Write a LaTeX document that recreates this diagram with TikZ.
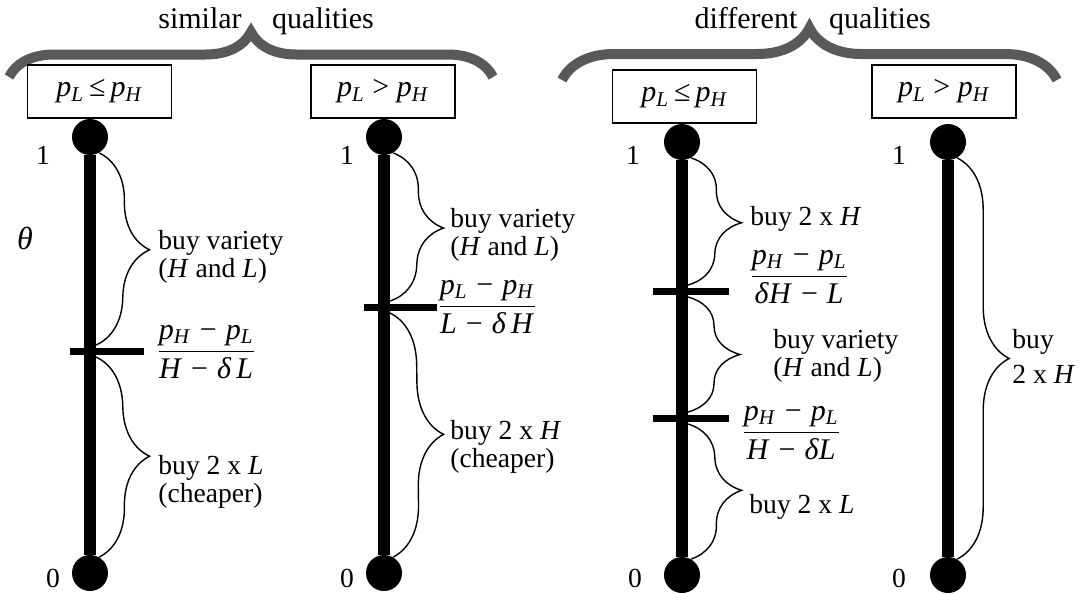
\documentclass[tikz,border=0pt]{standalone}
\usepackage{amsmath}
\usepackage{fontspec}
\setmainfont{Liberation Serif}
\usetikzlibrary{decorations.pathreplacing}

\newcommand\vi[1]{\textit{#1}}
\newcommand\pr[1]{\textit{p}\textsubscript{\textit{#1}}}
\newcommand\mn{\hspace{0.3em}−\hspace{0.3em}}

\begin{document}
\begin{tikzpicture}[x=0.5pt, y=-0.5pt, font=\fontsize{13.8}{14}\selectfont]
    \tikzset{
        pricebox/.style={draw, line width=0.7pt,
        minimum width=72pt, minimum height=26.5pt, inner sep=0pt,
        font=\fontsize{15}{15}\selectfont},
        dot/.style={circle, fill=black, minimum size=18pt, inner sep=0pt},
        axis/.style={line width=6pt},
        cut/.style={line width=3.5pt},
        brc/.style={decorate, decoration={brace, amplitude=26pt}, line width=0.7pt},
        bigbrc/.style={decorate, decoration={brace, amplitude=#1},
        line width=5pt, draw=black!65},
        lbl/.style={anchor=base west, inner sep=0pt, align=left},
        fr/.style={anchor=west, inner sep=0pt, font=\fontsize{15}{16}\selectfont},
        head/.style={anchor=base, inner sep=0pt, font=\fontsize{15}{15}\selectfont},
        num/.style={inner sep=0pt}
    }
    \useasboundingbox (0,0) rectangle (1081,594);

    % group headings
    \node (sim) [head] at (200,28) {similar};
    \node (qual1) [head] at (323,28) {qualities};
    \node (diff) [head] at (746,28) {different};
    \node (qual2) [head] at (880,28) {qualities};
    \coordinate (gl1) at (9,77);
    \coordinate (gr1) at (493,77);
    \coordinate (gl2) at (562,80);
    \coordinate (gr2) at (1057,80);
    \draw [bigbrc=22.5pt] (gl1) -- (gr1);
    \draw [bigbrc=26pt] (gl2) -- (gr2);

    % price cases
    \node (case1) [pricebox] at (99.5,91.5) {\pr{L}\,≤\,\pr{H}};
    \node (case2) [pricebox] at (383,91.5) {\pr{L} > \pr{H}};
    \node (case3) [pricebox] at (684.5,96.5) {\pr{L}\,≤\,\pr{H}};
    \node (case4) [pricebox] at (944,91.5) {\pr{L} > \pr{H}};

    \node (theta) [num, font=\fontsize{16}{16}\selectfont] at (25,238) {\vi{θ}};

    % first axis
    \node (top1) [dot] at (90,137) {};
    \node (bot1) [dot] at (90,573) {};
    \node (one1) [num] at (43,155) {1};
    \node (zero1) [num] at (53,578) {0};
    \coordinate (t1) at (90,351);
    \draw [axis] (top1) -- (bot1);
    \draw [cut] ([xshift=-10pt]t1) -- ([xshift=27pt]t1);
    \draw [brc] (top1.-60) -- ([xshift=3pt,yshift=3pt]t1);
    \draw [brc] ([xshift=3pt,yshift=-3pt]t1) -- (bot1.60);
    \node (var1) [lbl] at (158,277) {buy variety\\(\vi{H} and \vi{L})};
    \node (fr1) [fr] at (156,352) {$\dfrac{\text{\pr{H}\mn\pr{L}}}{\text{\vi{H}\mn\vi{δ}\,\vi{L}}}$};
    \node (low1) [lbl] at (158,502) {buy 2 x \vi{L}\\(cheaper)};

    % second axis
    \node (top2) [dot] at (384,137) {};
    \node (bot2) [dot] at (384,573) {};
    \node (one2) [num] at (347,155) {1};
    \node (zero2) [num] at (347,578) {0};
    \coordinate (t2) at (384,307);
    \draw [axis] (top2) -- (bot2);
    \draw [cut] ([xshift=-10pt]t2) -- ([xshift=26.5pt]t2);
    \draw [brc] (top2.-60) -- ([xshift=3pt,yshift=3pt]t2);
    \draw [brc] ([xshift=3pt,yshift=-3pt]t2) -- (bot2.60);
    \node (var2) [lbl] at (450,255) {buy variety\\(\vi{H} and \vi{L})};
    \node (fr2) [fr] at (437,307) {$\dfrac{\text{\pr{L}\mn\pr{H}}}{\text{\vi{L}\mn\vi{δ}\,\vi{H}}}$};
    \node (low2) [lbl] at (450,467) {buy 2 x \vi{H}\\(cheaper)};

    % third axis
    \node (top3) [dot] at (682,142) {};
    \node (bot3) [dot] at (682,575) {};
    \node (one3) [num] at (633,155) {1};
    \node (zero3) [num] at (635,578) {0};
    \coordinate (t3a) at (682,291);
    \coordinate (t3b) at (682,418);
    \draw [axis] (top3) -- (bot3);
    \draw [cut] ([xshift=-14.5pt]t3a) -- ([xshift=23.5pt]t3a);
    \draw [cut] ([xshift=-14.5pt]t3b) -- ([xshift=23.5pt]t3b);
    \draw [brc] (top3.-60) -- ([xshift=3pt,yshift=3pt]t3a);
    \draw [brc] ([xshift=3pt,yshift=-3pt]t3a) -- ([xshift=3pt,yshift=3pt]t3b);
    \draw [brc] ([xshift=3pt,yshift=-3pt]t3b) -- (bot3.60);
    \node (high3) [lbl] at (750,225) {buy 2 x \vi{H}};
    \node (fr3a) [fr] at (749,277) {$\dfrac{\text{\pr{H}\mn\pr{L}}}{\text{\vi{δ}\vi{H}\mn\vi{L}}}$};
    \node (var3) [lbl] at (773,376) {buy variety\\(\vi{H} and \vi{L})};
    \node (fr3b) [fr] at (741,433) {$\dfrac{\text{\pr{H}\mn\pr{L}}}{\text{\vi{H}\mn\vi{δ}\vi{L}}}$};
    \node (low3) [lbl] at (749,513) {buy 2 x \vi{L}};

    % fourth axis
    \node (top4) [dot] at (948,142) {};
    \node (bot4) [dot] at (948,575) {};
    \node (one4) [num] at (899,155) {1};
    \node (zero4) [num] at (899,578) {0};
    \draw [axis] (top4) -- (bot4);
    \draw [brc] (top4.-60) -- (bot4.60);
    \node (high4) [lbl, font=\fontsize{13.8}{17.5}\selectfont] at (1012,383) {buy\\2 x \vi{H}};
\end{tikzpicture}
\end{document}
